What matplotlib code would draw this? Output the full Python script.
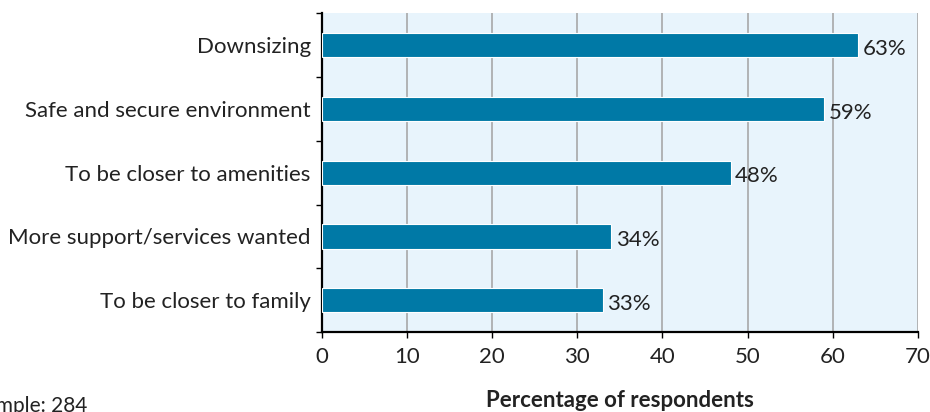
import matplotlib.pyplot as plt
import numpy as np

plt.rcParams['font.family'] = ['Lato', 'DejaVu Sans']

reasons = [
    "Downsizing",
    "Safe and secure environment",
    "To be closer to amenities",
    "More support/services wanted",
    "To be closer to family",
]
shares = [63, 59, 48, 34, 33]
x_ticks = [0, 10, 20, 30, 40, 50, 60, 70]

BAR = "#0079a6"
PANEL = "#e8f4fc"
GRID = "#a8a8a8"
INK = "#222222"
FS = 16

fig = plt.figure(figsize=(9.3, 4.12), dpi=100)
ax = fig.add_axes([0.346, 0.194, 0.641, 0.774])
ax.set_facecolor(PANEL)

y = np.arange(len(reasons))
ax.barh(y, shares, height=0.38, color=BAR, edgecolor="white", linewidth=0.8, zorder=3)

for yi, v in zip(y, shares):
    ax.text(v + 0.5, yi + 0.06, f"{v}%", va="center", ha="left", fontsize=FS,
            color=INK, zorder=4)

ax.set_xlim(0, 70)
ax.set_ylim(len(reasons) - 0.5, -0.5)
ax.set_xticks(x_ticks)
ax.set_xticklabels([str(t) for t in x_ticks], fontsize=FS, color=INK)
ax.xaxis.grid(True, color=GRID, linewidth=1.2, zorder=1)
ax.set_axisbelow(True)

ax.set_yticks(y)
ax.set_yticklabels(reasons, fontsize=FS, color=INK)
ax.set_yticks(np.arange(-0.5, len(reasons), 1.0), minor=True)
ax.tick_params(axis="y", which="major", length=0, pad=8)
ax.tick_params(axis="y", which="minor", length=4, width=1, color="black")
ax.tick_params(axis="x", length=4, width=1, pad=7)

for side in ("top", "right"):
    ax.spines[side].set_visible(False)
for side in ("left", "bottom"):
    ax.spines[side].set_linewidth(1.6)
    ax.spines[side].set_color("black")

ax.set_xlabel("Percentage of respondents", fontsize=FS, fontweight="bold",
              labelpad=16, color=INK)

fig.text(-0.028, -0.01, "Sample: 284", fontsize=15, color=INK,
         ha="left", va="bottom")

fig.savefig("out.png", dpi=100)
